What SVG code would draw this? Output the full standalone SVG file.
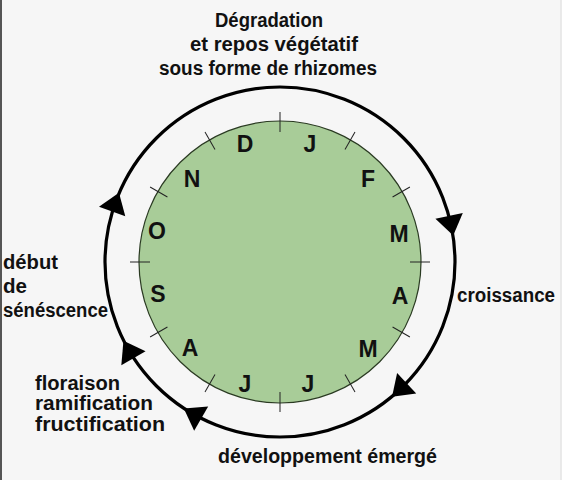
<svg xmlns="http://www.w3.org/2000/svg" width="562" height="480" viewBox="0 0 562 480">
<style>
.lbl{font-family:"Liberation Sans","DejaVu Sans",Arial,sans-serif;font-weight:bold;font-size:19.5px;fill:#111}
.mon{font-family:"Liberation Sans","DejaVu Sans",Arial,sans-serif;font-weight:bold;font-size:23px;fill:#111;text-anchor:middle}
.tick{stroke:#222;stroke-width:1}
.ring{fill:none;stroke:#000;stroke-width:3.2}
.ah{fill:#000}
</style>
<defs>
<path id="arrow" d="M441,252 L469,252 L455,272 Z"/>
</defs>
<rect x="0" y="0" width="562" height="480" fill="#f6f6f6"/>
<line x1="1" y1="0" x2="1" y2="480" stroke="#555" stroke-width="2"/>
<line x1="561" y1="0" x2="561" y2="480" stroke="#ddd" stroke-width="1"/>

<g id="calendar">
<circle cx="280" cy="262" r="141" fill="#a8cc98" stroke="#2a3a22" stroke-width="1.2"/>
<g id="ticks">
<line class="tick" x1="410" y1="262" x2="430" y2="262" transform="rotate(0 280 262)"/>
<line class="tick" x1="410" y1="262" x2="430" y2="262" transform="rotate(30 280 262)"/>
<line class="tick" x1="410" y1="262" x2="430" y2="262" transform="rotate(60 280 262)"/>
<line class="tick" x1="410" y1="262" x2="430" y2="262" transform="rotate(90 280 262)"/>
<line class="tick" x1="410" y1="262" x2="430" y2="262" transform="rotate(120 280 262)"/>
<line class="tick" x1="410" y1="262" x2="430" y2="262" transform="rotate(150 280 262)"/>
<line class="tick" x1="410" y1="262" x2="430" y2="262" transform="rotate(180 280 262)"/>
<line class="tick" x1="410" y1="262" x2="430" y2="262" transform="rotate(210 280 262)"/>
<line class="tick" x1="410" y1="262" x2="430" y2="262" transform="rotate(240 280 262)"/>
<line class="tick" x1="410" y1="262" x2="430" y2="262" transform="rotate(270 280 262)"/>
<line class="tick" x1="410" y1="262" x2="430" y2="262" transform="rotate(300 280 262)"/>
<line class="tick" x1="410" y1="262" x2="430" y2="262" transform="rotate(330 280 262)"/>
</g>
<g id="months">
<text class="mon" x="310" y="152">J</text>
<text class="mon" x="368" y="187">F</text>
<text class="mon" x="399" y="242">M</text>
<text class="mon" x="400" y="304">A</text>
<text class="mon" x="368" y="357">M</text>
<text class="mon" x="308" y="392">J</text>
<text class="mon" x="245" y="392">J</text>
<text class="mon" x="190" y="356">A</text>
<text class="mon" x="158" y="302">S</text>
<text class="mon" x="157" y="239">O</text>
<text class="mon" x="192" y="187">N</text>
<text class="mon" x="245" y="152">D</text>
</g>
</g>

<g id="connectors">
<circle class="ring" cx="280" cy="262" r="175"/>
<use href="#arrow" class="ah" transform="rotate(-12 280 262)"/>
<use href="#arrow" class="ah" transform="rotate(47 280 262)"/>
<use href="#arrow" class="ah" transform="rotate(120 280 262)"/>
<use href="#arrow" class="ah" transform="rotate(150 280 262)"/>
<use href="#arrow" class="ah" transform="rotate(200 280 262)"/>
</g>

<g id="label-degradation">
<text class="lbl" x="269" y="27" text-anchor="middle" textLength="108" lengthAdjust="spacingAndGlyphs">Dégradation</text>
<text class="lbl" x="274" y="51" text-anchor="middle" textLength="168" lengthAdjust="spacingAndGlyphs">et repos végétatif</text>
<text class="lbl" x="268" y="75" text-anchor="middle" textLength="218" lengthAdjust="spacingAndGlyphs">sous forme de rhizomes</text>
</g>
<g id="label-croissance">
<text class="lbl" x="457" y="302" textLength="98" lengthAdjust="spacingAndGlyphs">croissance</text>
</g>
<g id="label-developpement">
<text class="lbl" x="218" y="463" textLength="219" lengthAdjust="spacingAndGlyphs">développement émergé</text>
</g>
<g id="label-floraison">
<text class="lbl" x="35" y="390" textLength="85" lengthAdjust="spacingAndGlyphs">floraison</text>
<text class="lbl" x="35" y="410" textLength="118" lengthAdjust="spacingAndGlyphs">ramification</text>
<text class="lbl" x="35" y="431" textLength="130" lengthAdjust="spacingAndGlyphs">fructification</text>
</g>
<g id="label-senescence">
<text class="lbl" x="3" y="269" textLength="55" lengthAdjust="spacingAndGlyphs">début</text>
<text class="lbl" x="3" y="293" textLength="24" lengthAdjust="spacingAndGlyphs">de</text>
<text class="lbl" x="3" y="317" textLength="105" lengthAdjust="spacingAndGlyphs">sénéscence</text>
</g>
</svg>
